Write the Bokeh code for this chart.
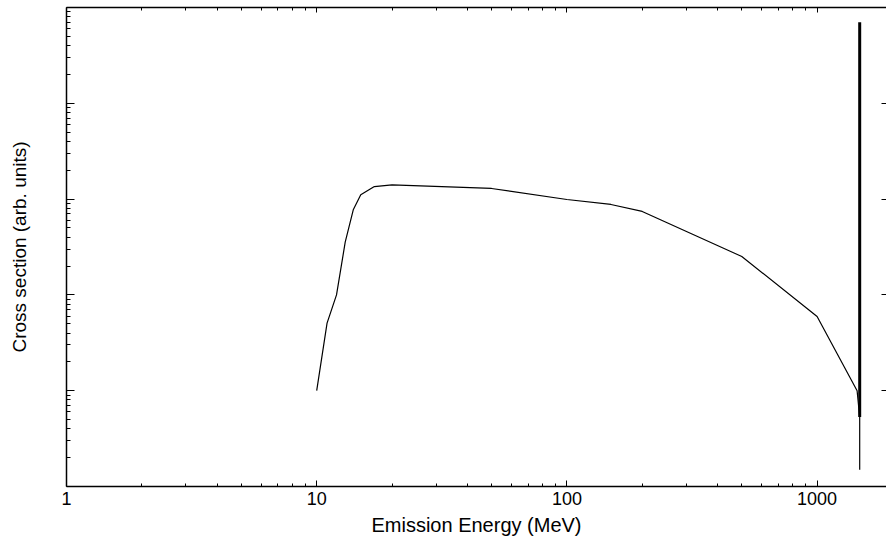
from bokeh.plotting import figure
from bokeh.models import LogAxis, FixedTicker, CustomJSTickFormatter, Range1d
from bokeh.embed import file_html
from bokeh.resources import INLINE

# ---- data ----
energy = [10, 11, 12, 13, 14, 15, 17, 20, 50, 100, 150, 200, 500, 1000, 1445, 1480, 1480]
xsec = [10, 50.7, 100, 355, 773, 1109, 1351, 1410, 1291, 990, 879, 743, 252, 59.5, 10, 5.3, 1.5]
spike_energy = [1480, 1480]
spike_xsec = [5.3, 7.0e4]

x_major = [1, 10, 100, 1000]
x_minor = [m * d for d in (1, 10, 100) for m in range(2, 10)]
y_major = [1, 10, 100, 1000, 1e4, 1e5]
y_minor = [m * d for d in (1, 10, 100, 1000, 1e4) for m in range(2, 10)]
x_tick_labels = {1: "1", 10: "10", 100: "100", 1000: "1000"}

FONT = "Liberation Sans"

p = figure(width=886, height=542,
           x_axis_type="log", y_axis_type="log",
           x_range=Range1d(1, 1894), y_range=Range1d(1, 1e5),
           output_backend="svg", toolbar_location=None,
           min_border_left=66, min_border_right=0, min_border_top=7, min_border_bottom=56,
           x_axis_label="Emission Energy (MeV)", y_axis_label="Cross section (arb. units)")
p.outline_line_color = None
p.grid.visible = False
p.background_fill_color = "white"
p.border_fill_color = "white"

empty = CustomJSTickFormatter(code="return ''")

# bottom axis
xa = p.xaxis[0]
xa.ticker = FixedTicker(ticks=x_major, minor_ticks=x_minor)
xa.major_label_overrides = x_tick_labels
xa.major_tick_in = 6
xa.major_tick_out = 0
xa.minor_tick_in = 3
xa.minor_tick_out = 0
xa.major_label_text_font = FONT
xa.major_label_text_font_size = "18px"
xa.major_label_text_color = "black"
xa.major_label_standoff = 5
xa.axis_label_text_font = FONT
xa.axis_label_text_font_size = "20px"
xa.axis_label_text_font_style = "normal"
xa.axis_label_text_color = "black"
xa.axis_label_standoff = 6
xa.axis_line_color = "black"
xa.axis_line_width = 1.5

# left axis
ya = p.yaxis[0]
ya.ticker = FixedTicker(ticks=y_major, minor_ticks=y_minor)
ya.formatter = empty
ya.major_label_text_font_size = "0px"
ya.major_tick_in = 8
ya.major_tick_out = 0
ya.minor_tick_in = 4
ya.minor_tick_out = 0
ya.axis_label_text_font = FONT
ya.axis_label_text_font_size = "19px"
ya.axis_label_text_font_style = "normal"
ya.axis_label_text_color = "black"
ya.axis_label_standoff = 37
ya.axis_line_color = "black"
ya.axis_line_width = 1.5

# top axis (ticks only)
ta = LogAxis(ticker=FixedTicker(ticks=x_major, minor_ticks=x_minor), formatter=empty,
             major_label_text_font_size="0px", major_label_standoff=0,
             major_tick_in=5, major_tick_out=0, minor_tick_in=3, minor_tick_out=0,
             axis_line_color="black", axis_line_width=1.5)
p.add_layout(ta, "above")

# right axis (ticks only, line beyond view)
ra = LogAxis(ticker=FixedTicker(ticks=y_major, minor_ticks=y_minor), formatter=empty,
             major_label_text_font_size="0px", major_label_standoff=0,
             major_tick_in=5, major_tick_out=0, minor_tick_in=0, minor_tick_out=0,
             axis_line_color=None)
p.add_layout(ra, "right")

p.line(energy, xsec, line_color="black", line_width=1.2)
p.line(spike_energy, spike_xsec, line_color="black", line_width=3)

open("out.html", "w").write(file_html(p, INLINE))
